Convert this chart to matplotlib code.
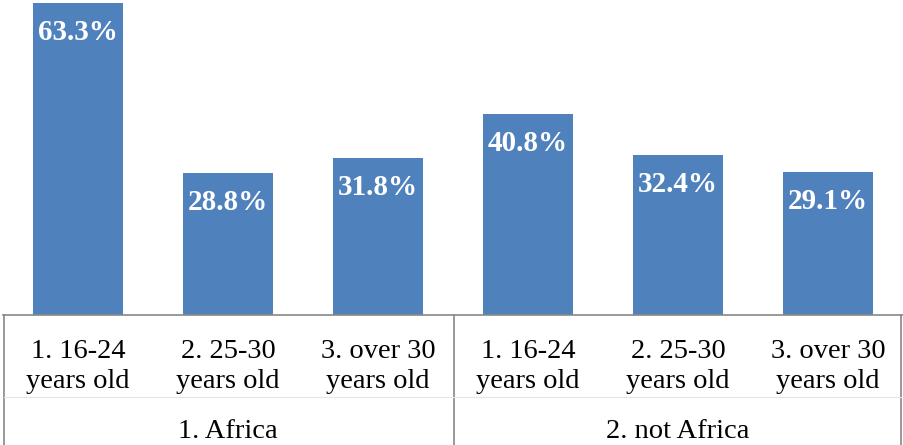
import matplotlib
matplotlib.use("Agg")
import matplotlib.pyplot as plt

groups = ["1. Africa", "2. not Africa"]
age_line1 = ["1. 16-24", "2. 25-30", "3. over 30"]
age_line2 = ["years old", "years old", "years old"]
africa = [63.3, 28.8, 31.8]
not_africa = [40.8, 32.4, 29.1]

values = africa + not_africa
line1 = age_line1 * 2
line2 = age_line2 * 2

W, H = 904, 445
fig = plt.figure(figsize=(W / 100, H / 100), dpi=100)
ax_left, ax_right = 3 / W, 903 / W
ax_bottom = (H - 315) / H
ax = fig.add_axes([ax_left, ax_bottom, ax_right - ax_left, 1 - ax_bottom])

color = "#4F81BD"
x = list(range(len(values)))
ax.bar(x, values, width=0.6, color=color, zorder=2)
ax.set_xlim(-0.5, len(values) - 0.5)
ax.set_ylim(0, 63.9)
for s in ["top", "left", "right"]:
    ax.spines[s].set_visible(False)
ax.spines["bottom"].set_color("#888888")
ax.spines["bottom"].set_linewidth(1.2)
ax.set_xticks([])
ax.set_yticks([])

serif = ["Liberation Serif", "DejaVu Serif"]
for xi, v in zip(x, values):
    ax.annotate(f"{v:.1f}%", (xi, v), xytext=(0, -37), textcoords="offset pixels",
                ha="center", va="baseline", color="white", fontsize=21, fontweight="bold",
                family=serif)

def fx(px):
    return px / W
def fy(py):
    return 1 - py / H

line_kw = dict(color="#888888", linewidth=1.2)
for px in [4, 454, 901]:
    fig.add_artist(plt.Line2D([fx(px), fx(px)], [fy(315), fy(445)], transform=fig.transFigure, **line_kw))
fig.add_artist(plt.Line2D([fx(4), fx(901)], [fy(397), fy(397)], transform=fig.transFigure,
                          color="#e6e6e6", linewidth=0.8))

for xi, l1, l2 in zip(x, line1, line2):
    px_center = 3 + (xi + 0.5) * 150
    fig.text(fx(px_center), fy(358), l1, ha="center", va="baseline", fontsize=20.5,
             family=serif, color="black")
    fig.text(fx(px_center), fy(388), l2, ha="center", va="baseline", fontsize=20.5,
             family=serif, color="black")
for gi, g in enumerate(groups):
    px_center = 3 + (gi * 3 + 1.5) * 150
    fig.text(fx(px_center), fy(438), g, ha="center", va="baseline", fontsize=20.5,
             family=serif, color="black")

fig.savefig("out.png", dpi=100)
